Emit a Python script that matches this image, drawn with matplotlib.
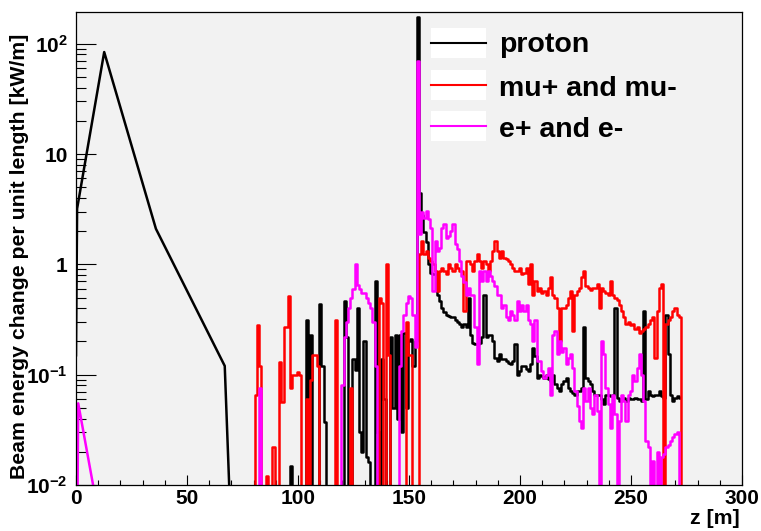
import numpy as np
import matplotlib
matplotlib.use("Agg")
import matplotlib.pyplot as plt
from matplotlib.patches import Rectangle
from matplotlib.lines import Line2D
from matplotlib.ticker import LogLocator, NullFormatter, MultipleLocator

plt.rcParams['font.family'] = ['Liberation Sans', 'DejaVu Sans']
plt.rcParams['font.weight'] = 'bold'
plt.rcParams['mathtext.fontset'] = 'custom'
plt.rcParams['mathtext.rm'] = 'Liberation Sans:bold'
plt.rcParams['mathtext.it'] = 'Liberation Sans:bold'
plt.rcParams['mathtext.bf'] = 'Liberation Sans:bold'

# ---------------- data (kW/m vs z [m]) ----------------
series_labels = ['proton', 'mu+ and mu-', 'e+ and e-']
series_colors = ['#000000', '#ff0000', '#ff00ff']

# upstream part (target region)
proton_z_head = [0, 0.5, 12.7, 36, 67, 69]
proton_v_head = [0.15, 3.2, 84, 2.1, 0.12, 0.01]
elec_z_head = [0, 1, 12.7, 20]
elec_v_head = [0, 0.055, 0.0028, 0]

# spiky region, 1 m grid 70..153
z_mid = list(range(70, 154))
proton_v_mid = [
    0, 0, 0, 0, 0, 0, 0, 0, 0, 0,
    0, 0, 0, 0, 0, 0, 0, 0, 0, 0,
    0, 0, 0, 0, 0, 0, 0, 0.015, 0, 0,
    0, 0, 0, 0, 0.31, 0, 0.23, 0, 0, 0,
    0.44, 0.12, 0.037, 0, 0, 0, 0, 0, 0, 0,
    0, 0.47, 0.22, 0, 0, 0.14, 0.11, 0.40, 0.03, 0.02,
    0.2, 0.018, 0.016, 0, 0, 0.7, 0.03, 0, 0.14, 0.06,
    0, 0, 0.22, 0.05, 0.23, 0.04, 0.23, 0.03, 0.24, 0.05,
    0.2, 0.21, 0.12, 0.2]
mu_v_mid = [
    0, 0, 0, 0, 0, 0, 0, 0, 0, 0,
    0, 0.066, 0.28, 0.12, 0, 0, 0.012, 0, 0, 0.022,
    0, 0, 0.13, 0.056, 0.27, 0.27, 0.52, 0.075, 0.1, 0.1,
    0.105, 0.1, 0, 0, 0.06, 0, 0.09, 0.15, 0.15, 0.12,
    0, 0, 0, 0, 0, 0, 0, 0.31, 0, 0,
    0, 0, 0, 0, 0.075, 0, 0, 0, 0, 0,
    0, 0, 0, 0, 0, 0, 0, 0.5, 0.45, 0,
    1.0, 0.15, 0, 0, 0, 0, 0, 0, 0, 0.3,
    0.15, 0.15, 0, 0]
elec_v_mid = [
    0, 0, 0, 0, 0, 0, 0, 0, 0, 0,
    0, 0, 0, 0.076, 0, 0, 0, 0, 0, 0,
    0, 0, 0, 0, 0, 0, 0, 0, 0, 0,
    0, 0, 0, 0, 0, 0, 0, 0, 0, 0,
    0, 0, 0, 0, 0, 0, 0, 0, 0, 0,
    0.08, 0.22, 0.3, 0.4, 0.5, 0.6, 1.0, 0.65, 0.6, 0.55,
    0.55, 0.5, 0.45, 0.4, 0.3, 0.12, 0, 0, 0, 0,
    0, 0, 0, 0, 0, 0, 0.12, 0.25, 0.35, 0.45,
    0.52, 0.5, 0.35, 0.18]

# downstream region, 1 m grid 154..273
z_tail = list(range(154, 274))
proton_v_tail = [
    173,
    4.46, 2.8, 1.95, 1.6, 1.0, 0.84, 0.81, 0.81, 0.53,
    0.47, 0.40, 0.37, 0.35, 0.34, 0.33, 0.33, 0.31, 0.30, 0.29,
    0.27, 0.29, 0.27, 0.50, 0.23, 0.195, 0.19, 0.19, 0.195, 0.22,
    0.53, 0.22, 0.23, 0.23, 0.20, 0.143, 0.133, 0.153, 0.138, 0.138,
    0.133, 0.128, 0.124, 0.133, 0.19, 0.10, 0.108, 0.12, 0.12, 0.112,
    0.108, 0.124, 0.176, 0.148, 0.094, 0.10, 0.097, 0.094, 0.10, 0.091,
    0.088, 0.10, 0.082, 0.076, 0.071, 0.082, 0.088, 0.094, 0.076, 0.071,
    0.068, 0.066, 0.071, 0.071, 0.076, 0.27, 0.094, 0.088, 0.082, 0.071,
    0.066, 0.066, 0.066, 0.060, 0.054, 0.066, 0.066, 0.064, 0.066, 0.40,
    0.062, 0.058, 0.060, 0.062, 0.058, 0.062, 0.060, 0.060, 0.062, 0.060,
    0.060, 0.058, 0.38, 0.060, 0.071, 0.066, 0.064, 0.066, 0.066, 0.071,
    0.064, 0.062, 0.35, 0.153, 0.066, 0.058, 0.062, 0.064, 0.062]
mu_v_tail = [
    0,
    1.23, 1.63, 1.23, 1.32, 1.15, 1.07, 1.0, 0.87, 0.57,
    0.87, 0.93, 0.87, 0.81, 1.0, 0.93, 0.87, 1.0, 0.93, 0.87,
    0.87, 0.38, 1.07, 1.07, 1.0, 0.87, 1.07, 1.23, 1.07, 0.93,
    1.07, 1.0, 0.87, 1.07, 1.32, 1.63, 1.32, 1.15, 1.32, 1.15,
    1.11, 1.07, 1.0, 0.93, 0.87, 0.87, 0.93, 0.81, 0.84, 0.93,
    0.66, 1.0, 0.53, 0.71, 0.57, 0.61, 0.55, 0.57, 0.53, 0.61,
    0.76, 0.53, 0.50, 0.40, 0.20, 0.40, 0.40, 0.43, 0.50, 0.57,
    0.25, 0.53, 0.57, 0.61, 0.76, 0.87, 0.63, 0.61, 0.59, 0.61,
    0.61, 0.66, 0.40, 0.61, 0.57, 0.55, 0.53, 0.71, 0.53, 0.50,
    0.48, 0.43, 0.38, 0.33, 0.29, 0.30, 0.28, 0.29, 0.26, 0.27,
    0.24, 0.25, 0.26, 0.27, 0.29, 0.31, 0.33, 0.143, 0.38, 0.61,
    0.66, 0, 0.29, 0.31, 0.33, 0.38, 0.40, 0.35, 0.33, 0]
elec_v_tail = [
    70,
    1.9, 3.0, 2.65, 3.04, 2.55, 2.15, 0.57, 1.63, 1.32,
    1.42, 2.15, 2.3, 1.74, 1.8, 2.0, 2.3, 1.52, 1.37, 1.07,
    0.78, 0.69, 0.53, 0.61, 0.53, 0.53, 0.27, 0.124, 0.87, 0.71,
    0.87, 0.71, 0.87, 0.78, 0.71, 0.63, 0.53, 0.53, 0.40, 0.43,
    0.33, 0.31, 0.38, 0.35, 0.31, 0.47, 0.38, 0.43, 0.38, 0.43,
    0.31, 0.29, 0.20, 0.31, 0.133, 0.133, 0.108, 0.094, 0.10, 0.116,
    0.066, 0.23, 0.25, 0.153, 0.20, 0.16, 0.176, 0.124, 0.143, 0.153,
    0.116, 0.071, 0.052, 0.038, 0.033, 0.076, 0.058, 0.076, 0.050, 0.044,
    0.066, 0.047, 0, 0.20, 0.153, 0.076, 0.054, 0.033, 0.066, 0.044,
    0, 0.038, 0.066, 0.058, 0.038, 0.066, 0.071, 0.10, 0.088, 0.116,
    0.153, 0.10, 0.058, 0.025, 0.022, 0, 0.0165, 0, 0.020, 0,
    0.018, 0.019, 0.022, 0.023, 0.025, 0.027, 0.029, 0.030, 0, 0]

x_ticks = [0, 50, 100, 150, 200, 250, 300]
y_ticks = [0.01, 0.1, 1, 10, 100]
y_tick_labels = [r'$10^{-2}$', r'$10^{-1}$', '1', '10', r'$10^{2}$']

# ---------------- figure ----------------
W, H = 761, 531
fig = plt.figure(figsize=(W / 100, H / 100), dpi=100)
fig.patch.set_facecolor('white')
ax = fig.add_axes([76 / W, 1 - 485 / H, (742 - 76) / W, (485 - 11.7) / H])
ax.set_facecolor('#f2f2f2')

FLOOR = 1e-4


def clean(v):
    v = np.asarray(v, dtype=float)
    return np.where(v > 0, v, FLOOR)


lw = 1.8
# upstream smooth segments
ax.plot(proton_z_head, clean(proton_v_head), color=series_colors[0], lw=lw)
# binned parts
ax.plot(z_mid + z_tail[:len(proton_v_tail)], clean(proton_v_mid + proton_v_tail),
        color=series_colors[0], lw=lw, drawstyle='steps-mid')
ax.plot(z_mid + z_tail[:len(mu_v_tail)], clean(mu_v_mid + mu_v_tail),
        color=series_colors[1], lw=lw, drawstyle='steps-mid')
ax.plot(elec_z_head, clean(elec_v_head), color=series_colors[2], lw=lw)
ax.plot(z_mid + z_tail[:len(elec_v_tail)], clean(elec_v_mid + elec_v_tail),
        color=series_colors[2], lw=lw, drawstyle='steps-mid')

ax.set_yscale('log')
ax.set_xlim(0, 300)
ax.set_ylim(0.01, 195)

ax.set_xticks(x_ticks)
ax.set_xticklabels([str(t) for t in x_ticks])
ax.xaxis.set_minor_locator(MultipleLocator(10))
ax.set_yticks(y_ticks)
ax.set_yticklabels(y_tick_labels)
ax.yaxis.set_minor_locator(LogLocator(base=10, subs=np.arange(2, 10)))
ax.yaxis.set_minor_formatter(NullFormatter())

ax.tick_params(axis='x', which='major', direction='in', length=7.5, width=0.8,
               top=False, labelsize=15, pad=3)
ax.tick_params(axis='x', which='minor', direction='in', length=3.8, width=0.8, top=False)
ax.tick_params(axis='y', which='major', direction='in', length=14.5, width=0.8,
               right=False, labelsize=15, pad=6)
ax.tick_params(axis='y', which='minor', direction='in', length=7.2, width=0.8, right=False)
for sp in ax.spines.values():
    sp.set_linewidth(0.9)
    sp.set_color('black')

# axis titles
fig.text(20 / W, 1 - 34 / H, 'Beam energy change per unit length [kW/m]',
         rotation=90, ha='center', va='top', fontsize=15.3, fontweight='bold')
fig.text(740 / W, 1 - 518 / H, 'z [m]', ha='right', va='center',
         fontsize=15.3, fontweight='bold')

# legend (drawn in figure pixels)
rows_y = [43, 85, 126]
base_y = [52.5, 96.5, 137.5]
for lab, col, ry, by in zip(series_labels, series_colors, rows_y, base_y):
    fig.add_artist(Rectangle((430.5 / W, 1 - (ry + 15) / H), 56 / W, 30 / H,
                             transform=fig.transFigure, facecolor='white',
                             edgecolor='none'))
    fig.add_artist(Line2D([431 / W, 486 / W], [1 - ry / H, 1 - ry / H],
                          transform=fig.transFigure, color=col, lw=1.5))
    fig.text(499 / W, 1 - by / H, lab, ha='left', va='baseline',
             fontsize=20.5, fontweight='bold')

fig.savefig('out.png', dpi=100, facecolor='white')
